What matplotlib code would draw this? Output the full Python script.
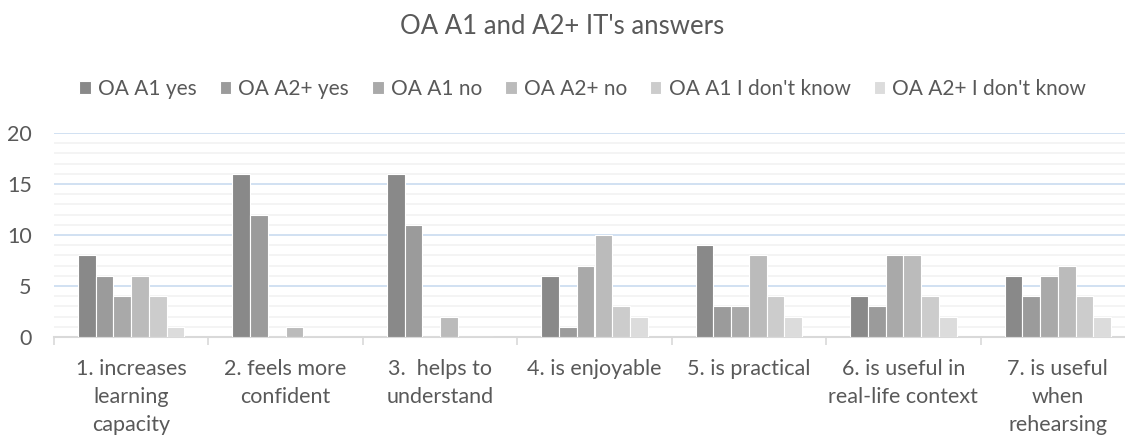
import numpy as np
import matplotlib.pyplot as plt
from matplotlib.ticker import MultipleLocator, FixedLocator, NullFormatter

plt.rcParams['font.family'] = ['Lato', 'DejaVu Sans']

categories = ["1. increases\nlearning\ncapacity", "2. feels more\nconfident",
              "3.  helps to\nunderstand", "4. is enjoyable", "5. is practical",
              "6. is useful in\nreal-life context", "7. is useful\nwhen\nrehearsing"]
series_names = ["OA A1 yes", "OA A2+ yes", "OA A1 no", "OA A2+ no",
                "OA A1 I don't know", "OA A2+ I don't know"]
a1_yes = [8, 16, 16, 6, 9, 4, 6]
a2_yes = [6, 12, 11, 1, 3, 3, 4]
a1_no = [4, 0, 0, 7, 3, 8, 6]
a2_no = [6, 1, 2, 10, 8, 8, 7]
a1_dk = [4, 0, 0, 3, 4, 4, 4]
a2_dk = [1, 0, 0, 2, 2, 2, 2]
values = [a1_yes, a2_yes, a1_no, a2_no, a1_dk, a2_dk]
colors = ['#898989', '#9b9b9b', '#a9a9a9', '#bbbbbb', '#cccccc', '#dcdcdc']

txt = '#595959'
fig = plt.figure(figsize=(11.25, 4.36), dpi=100)
ax = fig.add_axes([54 / 1125, 99 / 436, 1081 / 1125, 204 / 436])

x = np.arange(len(categories))
w = 0.115
for i, (vals, c) in enumerate(zip(values, colors)):
    ax.bar(x + (i - 2.5) * w, vals, w, color=c, edgecolor='white',
           linewidth=0.8, label=series_names[i], zorder=3)

ax.set_xlim(-0.5, len(categories) - 0.5)
ax.set_ylim(0, 20)
ax.yaxis.set_major_locator(MultipleLocator(5))
ax.yaxis.set_minor_locator(MultipleLocator(1))
ax.grid(axis='y', which='minor', color='#f2f2f2', linewidth=1.2, zorder=0)
ax.grid(axis='y', which='major', color='#c9dbf0', linewidth=1.2, zorder=1)
ax.yaxis.get_major_ticks()[-1].gridline.set_color('#f2f2f2')
ax.tick_params(axis='y', which='both', length=0, labelsize=15.5,
               labelcolor=txt, pad=16)

ax.set_xticks(x)
ax.set_xticklabels(categories, fontsize=15.5, color=txt, linespacing=1.5)
ax.xaxis.set_minor_locator(FixedLocator(np.arange(-0.5, len(categories), 1)))
ax.xaxis.set_minor_formatter(NullFormatter())
ax.tick_params(axis='x', which='major', length=0, pad=16)
ax.tick_params(axis='x', which='minor', length=6, color='#d9d9d9', width=1.2)

for s in ['top', 'right', 'left']:
    ax.spines[s].set_visible(False)
ax.spines['bottom'].set_color('#d9d9d9')
ax.spines['bottom'].set_linewidth(1.5)

fig.suptitle("OA A1 and A2+ IT's answers", y=1 - 26 / 436, va='center',
             fontsize=18.5, color=txt)
fig.legend(loc='center', bbox_to_anchor=(0.518, 1 - 89 / 436), ncol=6,
           frameon=False, fontsize=15, handlelength=0.55, handleheight=0.55,
           handletextpad=0.35, columnspacing=1.1, labelcolor=txt)

fig.savefig('out.png', dpi=100)
